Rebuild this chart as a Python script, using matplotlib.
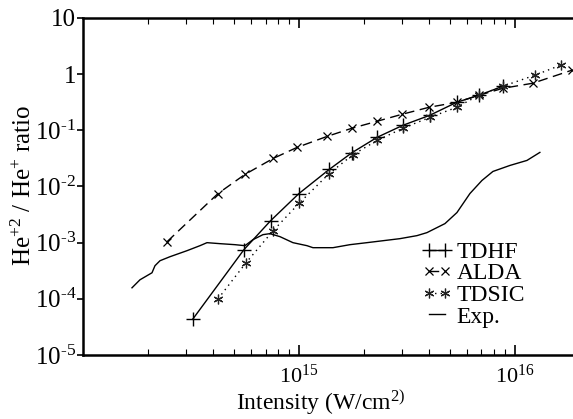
import numpy as np
import matplotlib
matplotlib.use("Agg")
import matplotlib.pyplot as plt
from matplotlib.ticker import FixedLocator, FuncFormatter, NullLocator, NullFormatter

plt.rcParams['font.family'] = ['Liberation Serif', 'DejaVu Serif']
plt.rcParams['mathtext.fontset'] = 'custom'
plt.rcParams['mathtext.rm'] = 'Liberation Serif'
plt.rcParams['mathtext.it'] = 'Liberation Serif:italic'

# values (intensity in W/cm^2, ratio He+2/He+)
tdhf_x = [3.23e14, 5.56e14, 7.4e14, 1.0e15, 1.38e15, 1.76e15, 2.3e15, 3.03e15,
          4.03e15, 5.38e15, 6.8e15, 8.8e15]
tdhf_y = [4.4e-5, 7.5e-4, 2.47e-3, 7.5e-3, 0.0201, 0.040, 0.075, 0.123,
          0.185, 0.316, 0.42, 0.61]

alda_x = [2.45e14, 4.22e14, 5.62e14, 7.6e14, 9.8e14, 1.35e15, 1.76e15, 2.3e15,
          3.0e15, 4.0e15, 5.38e15, 6.8e15, 8.8e15, 1.21e16, 1.84e16]
alda_y = [1.04e-3, 7.5e-3, 0.0164, 0.0316, 0.0497, 0.078, 0.109, 0.145,
          0.193, 0.257, 0.316, 0.42, 0.56, 0.69, 1.18]

tdsic_x = [4.22e14, 5.69e14, 7.6e14, 1.0e15, 1.38e15, 1.78e15, 2.3e15, 3.03e15,
           4.03e15, 5.38e15, 6.8e15, 8.8e15, 1.24e16, 1.63e16]
tdsic_y = [1.0e-4, 4.4e-4, 1.64e-3, 5.0e-3, 0.017, 0.037, 0.066, 0.109,
           0.17, 0.257, 0.42, 0.61, 0.96, 1.45]

exp_x = [1.686e14, 1.836e14, 2.087e14, 2.154e14, 2.273e14, 2.528e14, 3.030e14,
         3.481e14, 3.751e14, 4.309e14, 5.054e14, 5.623e14, 6.124e14, 6.813e14,
         7.341e14, 8.166e14, 9.38e14, 1.089e15, 1.161e15, 1.437e15, 1.722e15,
         2.064e15, 2.936e15, 3.519e15, 3.914e15, 4.743e15, 5.389e15, 6.191e15,
         7.036e15, 7.910e15, 9.483e15, 1.137e16, 1.305e16]
exp_y = [1.572e-4, 2.184e-4, 2.912e-4, 3.884e-4, 4.772e-4, 5.623e-4, 7.197e-4,
         8.84e-4, 1.0e-3, 9.60e-4, 9.21e-4, 8.84e-4, 1.131e-3, 1.389e-3,
         1.448e-3, 1.280e-3, 1.0e-3, 8.84e-4, 8.14e-4, 8.14e-4, 9.21e-4,
         1.0e-3, 1.179e-3, 1.334e-3, 1.509e-3, 2.184e-3, 3.434e-3, 7.50e-3,
         0.0128, 0.01853, 0.02371, 0.02912, 0.04046]

fig = plt.figure(figsize=(5.73, 4.19), dpi=100)
ax = fig.add_axes([83 / 573, 1 - 355 / 419, 490 / 573, 337 / 419])

ax.plot(tdhf_x, tdhf_y, color='black', lw=1.0, marker='+', ms=10, mew=1.0, label='TDHF')
ax.plot(alda_x, alda_y, color='black', lw=1.0, ls=(0, (7, 4)), marker='x', ms=6,
        mew=0.9, label='ALDA')
ax.plot(tdsic_x, tdsic_y, color='black', lw=1.0, ls=(0, (1, 3)), marker=(6, 2, 0),
        ms=7, mew=0.9, mec='#222222', label='TDSIC')
ax.plot(exp_x, exp_y, color='black', lw=1.0, label='Exp.')

ax.set_xscale('log')
ax.set_yscale('log')
ax.set_xlim(1e14, 10 ** 16.269)
ax.set_ylim(1e-5, 10)

ax.xaxis.set_major_locator(FixedLocator([1e15, 1e16]))
ax.xaxis.set_major_formatter(FuncFormatter(lambda v, p: r'$10^{%d}$' % round(np.log10(v))))
minors = [m * 10 ** e for e in (14, 15) for m in range(2, 10)]
ax.xaxis.set_minor_locator(FixedLocator(minors))
ax.xaxis.set_minor_formatter(NullFormatter())

def ylab(v, p):
    e = round(np.log10(v))
    if e == 1:
        return '10'
    if e == 0:
        return '1'
    return r'$10^{\text{-}%d}$' % (-e)

ax.yaxis.set_major_locator(FixedLocator([10 ** e for e in range(-5, 2)]))
ax.yaxis.set_major_formatter(FuncFormatter(ylab))
ax.yaxis.set_minor_locator(NullLocator())

ax.tick_params(axis='x', which='both', direction='in', top=True, bottom=True,
               labelsize=16, pad=7)
ax.tick_params(axis='x', which='major', length=7, width=1.2)
ax.tick_params(axis='x', which='minor', length=4, width=0.8)
ax.tick_params(axis='y', which='major', direction='out', length=4, width=1.2,
               labelsize=18, pad=1, right=False)

ax.spines['right'].set_visible(False)
for s in ('left', 'bottom', 'top'):
    ax.spines[s].set_linewidth(1.8)

ax.set_xlabel(r'Intensity (W/cm$^{2)}$', fontsize=17)
ax.xaxis.set_label_coords(0.486, -0.100)
ax.set_ylabel(r'He$^{+2}$ / He$^{+}$ ratio', fontsize=18)
ax.yaxis.set_label_coords(-0.095, 0.504)

ax.legend(loc='upper left', bbox_to_anchor=(0.692, 0.337), frameon=False, fontsize=17,
          handlelength=1.25, handletextpad=0.2, labelspacing=0.0, numpoints=2,
          borderaxespad=0, borderpad=0)

fig.savefig('out.png', dpi=100)
